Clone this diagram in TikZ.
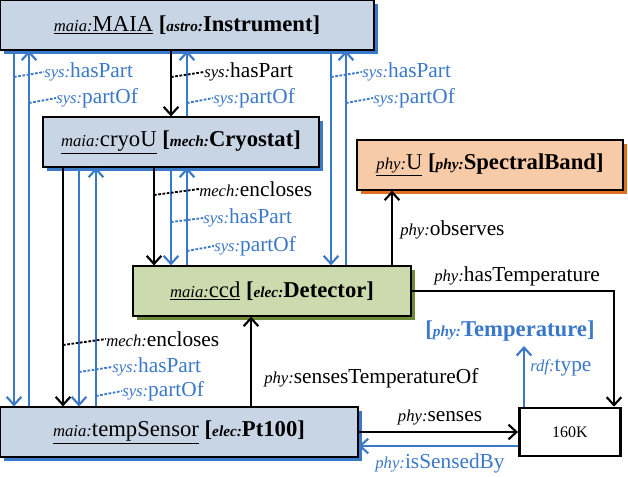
\documentclass[tikz,border=0pt]{standalone}
\usepackage{fontspec}
\setmainfont{Liberation Serif}
\usetikzlibrary{arrows.meta,shadows}
\definecolor{bl}{HTML}{3A78C8}
\definecolor{bfill}{HTML}{C8D5E5}
\definecolor{gfill}{HTML}{CBDBAD}
\definecolor{gsh}{HTML}{6F8A38}
\definecolor{ofill}{HTML}{F8CBA8}
\definecolor{osh}{HTML}{E07020}
\newcommand{\pf}[1]{{\fontsize{12.5}{12}\selectfont\itshape #1:}}
\newcommand{\bpf}[1]{{\fontsize{11.5}{11}\selectfont\itshape #1:}}
\begin{document}
\begin{tikzpicture}[x=0.75pt,y=-0.75pt,
 box/.style={draw=black,line width=0.9pt,minimum height=37.5pt,inner sep=0pt,font=\fontsize{17}{18}\selectfont,
   general shadow={fill=#1,shadow xshift=3pt,shadow yshift=-3pt}},
 bk/.style={line width=1.9pt,black},
 bu/.style={line width=1.6pt,bl},
 tip/.style={-{Straight Barb[length=6pt,width=11pt,line width=1.6pt]}},
 lead/.style={line width=1.4pt,dash pattern=on 2pt off 1.2pt},
 lab/.style={anchor=west,inner sep=0pt,font=\fontsize{16}{16}\selectfont},
]
\useasboundingbox (0,0) rectangle (628,476);
\node[box=bl,fill=bfill,minimum width=280.5pt] (maia) at (187,25) {\underline{\pf{maia}MAIA} \textbf{[\bpf{astro}Instrument]}};
\node[box=bl,fill=bfill,minimum width=207pt] (cryo) at (181,142) {\underline{\pf{maia}cryoU} \textbf{[\bpf{mech}Cryostat]}};
\node[box=osh,fill=ofill,minimum width=199.5pt] (u) at (490,165) {\underline{\pf{phy}U} \textbf{[\bpf{phy}SpectralBand]}};
\node[box=gsh,fill=gfill,minimum width=208.5pt] (ccd) at (272,291) {\underline{\pf{maia}ccd} \textbf{[\bpf{elec}Detector]}};
\node[box=bl,fill=bfill,minimum width=268.5pt] (ts) at (179,432) {\underline{\pf{maia}tempSensor} \textbf{[\bpf{elec}Pt100]}};
\node[draw,line width=1.9pt,minimum width=76pt,minimum height=36pt,fill=white,font=\fontsize{12}{12}\selectfont] (k) at (570,432) {160K};
\node[font=\fontsize{17}{18}\selectfont\bfseries,text=bl] (temp) at (510,331) {[\bpf{phy}Temperature]};

% MAIA - tempSensor
\draw[bu,tip] (14,0 |- maia.south) -- (14,0 |- ts.north);
\draw[bu,tip] (29,0 |- ts.north) -- (29,0 |- maia.south);
\node[lab,text=bl] (l1) at (44,72) {\pf{sys}hasPart};
\node[lab,text=bl] (l2) at (56,98) {\pf{sys}partOf};
\draw[lead,bl] (14,77) -- (l1.west);
\draw[lead,bl] (29,103) -- (l2.west);
% MAIA - cryoU
\draw[bk,tip] (171,0 |- maia.south) -- (171,0 |- cryo.north);
\draw[bu,tip] (187,0 |- cryo.north) -- (187,0 |- maia.south);
\node[lab] (l3) at (204,72) {\pf{sys}hasPart};
\node[lab,text=bl] (l4) at (213,98) {\pf{sys}partOf};
\draw[lead] (171,77) -- (l3.west);
\draw[lead,bl] (187,103) -- (l4.west);
% MAIA - ccd
\draw[bu,tip] (331,0 |- maia.south) -- (331,0 |- ccd.north);
\draw[bu,tip] (346,0 |- ccd.north) -- (346,0 |- maia.south);
\node[lab,text=bl] (l5) at (362,72) {\pf{sys}hasPart};
\node[lab,text=bl] (l6) at (373,98) {\pf{sys}partOf};
\draw[lead,bl] (331,77) -- (l5.west);
\draw[lead,bl] (346,103) -- (l6.west);
% cryoU - tempSensor
\draw[bk,tip] (63,0 |- cryo.south) -- (63,0 |- ts.north);
\draw[bu,tip] (79,0 |- cryo.south) -- (79,0 |- ts.north);
\draw[bu,tip] (96,0 |- ts.north) -- (96,0 |- cryo.south);
\node[lab] (l7) at (106,339) {\pf{mech}encloses};
\node[lab,text=bl] (l8) at (112,367) {\pf{sys}hasPart};
\node[lab,text=bl] (l9) at (122,391) {\pf{sys}partOf};
\draw[lead] (63,345) -- (l7.west);
\draw[lead,bl] (79,372) -- (l8.west);
\draw[lead,bl] (96,396) -- (l9.west);
% cryoU - ccd
\draw[bk,tip] (154,0 |- cryo.south) -- (154,0 |- ccd.north);
\draw[bu,tip] (171,0 |- cryo.south) -- (171,0 |- ccd.north);
\draw[bu,tip] (187,0 |- ccd.north) -- (187,0 |- cryo.south);
\node[lab] (l10) at (199,189) {\pf{mech}encloses};
\node[lab,text=bl] (l11) at (203,218) {\pf{sys}hasPart};
\node[lab,text=bl] (l12) at (214,246) {\pf{sys}partOf};
\draw[lead] (154,195) -- (l10.west);
\draw[lead,bl] (171,222) -- (l11.west);
\draw[lead,bl] (187,251) -- (l12.west);
% ccd - U
\draw[bk,tip] (392,0 |- ccd.north) -- (392,0 |- u.south);
\node[lab] at (400,230) {\pf{phy}observes};
% ccd - 160K
\draw[bk,tip] (ccd.east |- 0,291) -- (614,291) -- (614,0 |- k.north);
\node[lab] at (434,276) {\pf{phy}hasTemperature};
% tempSensor - ccd
\draw[bk,tip] (251,0 |- ts.north) -- (251,0 |- ccd.south);
\node[lab] at (264,378) {\pf{phy}sensesTemperatureOf};
% 160K - Temperature
\draw[bu,tip] (524,0 |- k.north) -- (524,0 |- temp.south);
\node[lab,text=bl] at (530,368) {\pf{rdf}type};
% senses
\draw[bk,tip] (ts.east |- 0,432) -- (k.west |- 0,432);
\draw[bu,tip] (k.west |- 0,446) -- (ts.east |- 0,446);
\node[font=\fontsize{16}{16}\selectfont] at (440,418) {\pf{phy}senses};
\node[font=\fontsize{16}{16}\selectfont,text=bl] at (440,463) {\pf{phy}isSensedBy};
\end{tikzpicture}
\end{document}
